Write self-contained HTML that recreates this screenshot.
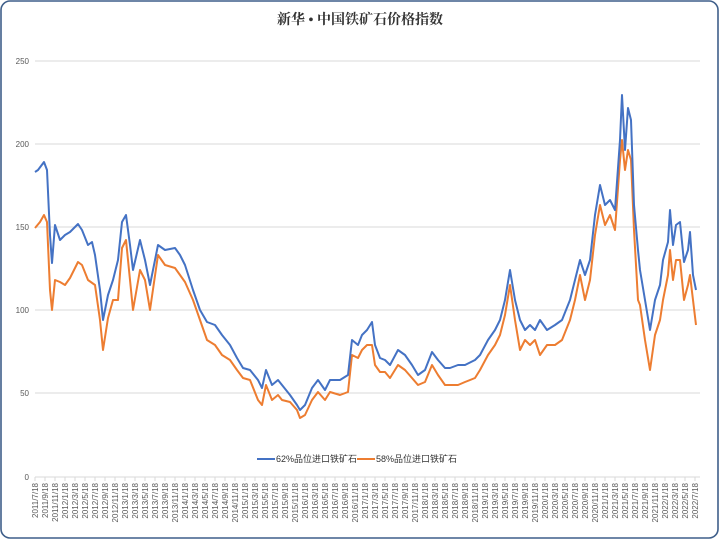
<!DOCTYPE html>
<html><head><meta charset="utf-8"><style>
html,body{margin:0;padding:0;background:#fff;}
svg{display:block;}
text{font-family:"Liberation Sans","Noto Sans CJK SC",sans-serif;}
</style></head><body>
<svg width="720" height="540" viewBox="0 0 720 540" xmlns="http://www.w3.org/2000/svg">
<rect x="1" y="1" width="717" height="537" rx="9" fill="#fff" stroke="#3f5f8a" stroke-width="1.6"/>
<text x="360" y="24" text-anchor="middle" font-size="14" font-weight="bold" style="font-family:'Liberation Serif','Noto Serif CJK SC',serif" fill="#333">新华 • 中国铁矿石价格指数</text>
<g stroke="#d9d9d9" stroke-width="1">
<line x1="35" y1="61" x2="700" y2="61"/><line x1="35" y1="144" x2="700" y2="144"/><line x1="35" y1="227" x2="700" y2="227"/><line x1="35" y1="310" x2="700" y2="310"/><line x1="35" y1="393" x2="700" y2="393"/><line x1="35" y1="477" x2="700" y2="477"/>
</g>
<g font-size="8" fill="#595959" text-anchor="end">
<text x="29" y="64">250</text><text x="29" y="147">200</text><text x="29" y="230">150</text><text x="29" y="313">100</text><text x="29" y="396">50</text><text x="29" y="480">0</text>
</g>
<g stroke="#d9d9d9" stroke-width="1" id="ticks">
<path d="M35 477v4M45 477v4M55 477v4M65 477v4M75 477v4M85 477v4M95 477v4M105 477v4M115 477v4M125 477v4M135 477v4M145 477v4M155 477v4M165 477v4M175 477v4M185 477v4M195 477v4M205 477v4M215 477v4M225 477v4M235 477v4M245 477v4M255 477v4M265 477v4M275 477v4M285 477v4M295 477v4M305 477v4M315 477v4M325 477v4M335 477v4M345 477v4M355 477v4M365 477v4M375 477v4M385 477v4M395 477v4M405 477v4M415 477v4M425 477v4M435 477v4M445 477v4M455 477v4M465 477v4M475 477v4M485 477v4M495 477v4M505 477v4M515 477v4M525 477v4M535 477v4M545 477v4M555 477v4M565 477v4M575 477v4M585 477v4M595 477v4M605 477v4M615 477v4M625 477v4M635 477v4M645 477v4M655 477v4M665 477v4M675 477v4M685 477v4M695 477v4"/>
</g>
<g font-size="8" fill="#595959" text-anchor="end">
<text transform="translate(38,483) rotate(-90)">2011/7/18</text>
<text transform="translate(48,483) rotate(-90)">2011/9/18</text>
<text transform="translate(58,483) rotate(-90)">2011/11/18</text>
<text transform="translate(68,483) rotate(-90)">2012/1/18</text>
<text transform="translate(78,483) rotate(-90)">2012/3/18</text>
<text transform="translate(88,483) rotate(-90)">2012/5/18</text>
<text transform="translate(98,483) rotate(-90)">2012/7/18</text>
<text transform="translate(108,483) rotate(-90)">2012/9/18</text>
<text transform="translate(118,483) rotate(-90)">2012/11/18</text>
<text transform="translate(128,483) rotate(-90)">2013/1/18</text>
<text transform="translate(138,483) rotate(-90)">2013/3/18</text>
<text transform="translate(148,483) rotate(-90)">2013/5/18</text>
<text transform="translate(158,483) rotate(-90)">2013/7/18</text>
<text transform="translate(168,483) rotate(-90)">2013/9/18</text>
<text transform="translate(178,483) rotate(-90)">2013/11/18</text>
<text transform="translate(188,483) rotate(-90)">2014/1/18</text>
<text transform="translate(198,483) rotate(-90)">2014/3/18</text>
<text transform="translate(208,483) rotate(-90)">2014/5/18</text>
<text transform="translate(218,483) rotate(-90)">2014/7/18</text>
<text transform="translate(228,483) rotate(-90)">2014/9/18</text>
<text transform="translate(238,483) rotate(-90)">2014/11/18</text>
<text transform="translate(248,483) rotate(-90)">2015/1/18</text>
<text transform="translate(258,483) rotate(-90)">2015/3/18</text>
<text transform="translate(268,483) rotate(-90)">2015/5/18</text>
<text transform="translate(278,483) rotate(-90)">2015/7/18</text>
<text transform="translate(288,483) rotate(-90)">2015/9/18</text>
<text transform="translate(298,483) rotate(-90)">2015/11/18</text>
<text transform="translate(308,483) rotate(-90)">2016/1/18</text>
<text transform="translate(318,483) rotate(-90)">2016/3/18</text>
<text transform="translate(328,483) rotate(-90)">2016/5/18</text>
<text transform="translate(338,483) rotate(-90)">2016/7/18</text>
<text transform="translate(348,483) rotate(-90)">2016/9/18</text>
<text transform="translate(358,483) rotate(-90)">2016/11/18</text>
<text transform="translate(368,483) rotate(-90)">2017/1/18</text>
<text transform="translate(378,483) rotate(-90)">2017/3/18</text>
<text transform="translate(388,483) rotate(-90)">2017/5/18</text>
<text transform="translate(398,483) rotate(-90)">2017/7/18</text>
<text transform="translate(408,483) rotate(-90)">2017/9/18</text>
<text transform="translate(418,483) rotate(-90)">2017/11/18</text>
<text transform="translate(428,483) rotate(-90)">2018/1/18</text>
<text transform="translate(438,483) rotate(-90)">2018/3/18</text>
<text transform="translate(448,483) rotate(-90)">2018/5/18</text>
<text transform="translate(458,483) rotate(-90)">2018/7/18</text>
<text transform="translate(468,483) rotate(-90)">2018/9/18</text>
<text transform="translate(478,483) rotate(-90)">2018/11/18</text>
<text transform="translate(488,483) rotate(-90)">2019/1/18</text>
<text transform="translate(498,483) rotate(-90)">2019/3/18</text>
<text transform="translate(508,483) rotate(-90)">2019/5/18</text>
<text transform="translate(518,483) rotate(-90)">2019/7/18</text>
<text transform="translate(528,483) rotate(-90)">2019/9/18</text>
<text transform="translate(538,483) rotate(-90)">2019/11/18</text>
<text transform="translate(548,483) rotate(-90)">2020/1/18</text>
<text transform="translate(558,483) rotate(-90)">2020/3/18</text>
<text transform="translate(568,483) rotate(-90)">2020/5/18</text>
<text transform="translate(578,483) rotate(-90)">2020/7/18</text>
<text transform="translate(588,483) rotate(-90)">2020/9/18</text>
<text transform="translate(598,483) rotate(-90)">2020/11/18</text>
<text transform="translate(608,483) rotate(-90)">2021/1/18</text>
<text transform="translate(618,483) rotate(-90)">2021/3/18</text>
<text transform="translate(628,483) rotate(-90)">2021/5/18</text>
<text transform="translate(638,483) rotate(-90)">2021/7/18</text>
<text transform="translate(648,483) rotate(-90)">2021/9/18</text>
<text transform="translate(658,483) rotate(-90)">2021/11/18</text>
<text transform="translate(668,483) rotate(-90)">2022/1/18</text>
<text transform="translate(678,483) rotate(-90)">2022/3/18</text>
<text transform="translate(688,483) rotate(-90)">2022/5/18</text>
<text transform="translate(698,483) rotate(-90)">2022/7/18</text>
</g>
<polyline fill="none" stroke="#ed7d31" stroke-width="2" stroke-linejoin="round" points="35,228 40,222 44,215 47,222 50,290 52,310 55,280 60,282 65,285 70,278 78,262 82,265 88,280 95,285 100,320 103,350 108,318 113,300 118,300 122,248 126,240 130,280 133,310 140,270 145,280 150,310 158,255 165,265 175,268 180,275 185,282 193,300 200,320 207,340 215,345 222,355 230,360 237,370 243,378 250,380 258,400 262,405 266,385 272,400 278,395 282,400 290,402 297,410 300,418 305,415 312,400 318,392 325,400 330,392 340,395 348,392 352,355 358,358 362,350 367,345 372,345 375,365 380,372 385,372 390,378 398,365 405,370 412,378 418,385 425,382 432,365 438,375 445,385 450,385 458,385 465,382 475,378 480,370 488,355 495,345 500,335 505,315 510,285 515,320 520,350 525,340 530,345 535,340 540,355 547,345 555,345 562,340 570,320 575,300 580,275 585,300 590,280 595,235 600,205 605,225 610,215 615,230 620,160 622,140 625,170 628,150 631,160 634,230 638,300 640,305 645,340 650,370 655,335 660,320 663,300 668,275 670,250 673,280 676,260 680,260 684,300 688,285 690,275 693,300 696,325"/>
<polyline fill="none" stroke="#4472c4" stroke-width="2" stroke-linejoin="round" points="35,172 38,170 44,162 47,170 50,235 52,263 55,225 60,240 65,235 70,232 78,224 82,230 88,245 92,242 95,255 100,290 103,320 108,295 113,280 118,260 122,222 126,215 130,245 133,270 140,240 145,260 150,285 158,245 165,250 175,248 180,255 185,265 193,290 200,310 207,322 215,325 222,335 230,345 237,358 243,368 250,370 258,380 262,388 266,370 272,385 278,380 282,385 290,395 297,405 300,410 305,405 312,388 318,380 325,390 330,380 340,380 348,375 352,340 358,345 362,335 367,330 372,322 375,345 380,358 385,360 390,365 398,350 405,355 412,365 418,375 425,370 432,352 438,360 445,368 450,368 458,365 465,365 475,360 480,355 488,340 495,330 500,320 505,300 510,270 515,300 520,320 525,330 530,325 535,330 540,320 547,330 555,325 562,320 570,300 575,280 580,260 585,275 590,260 595,215 600,185 605,205 610,200 615,210 620,140 622,95 625,150 628,108 631,120 634,205 638,250 640,270 645,300 650,330 655,300 660,285 663,260 668,242 670,210 673,245 676,225 680,222 684,262 688,250 690,232 693,275 696,290"/>
<line x1="257" y1="459" x2="275" y2="459" stroke="#4472c4" stroke-width="2"/>
<text x="276" y="462" font-size="9" fill="#333">62%品位进口铁矿石</text>
<line x1="357" y1="459" x2="375" y2="459" stroke="#ed7d31" stroke-width="2"/>
<text x="376" y="462" font-size="9" fill="#333">58%品位进口铁矿石</text>
</svg>
</body></html>
